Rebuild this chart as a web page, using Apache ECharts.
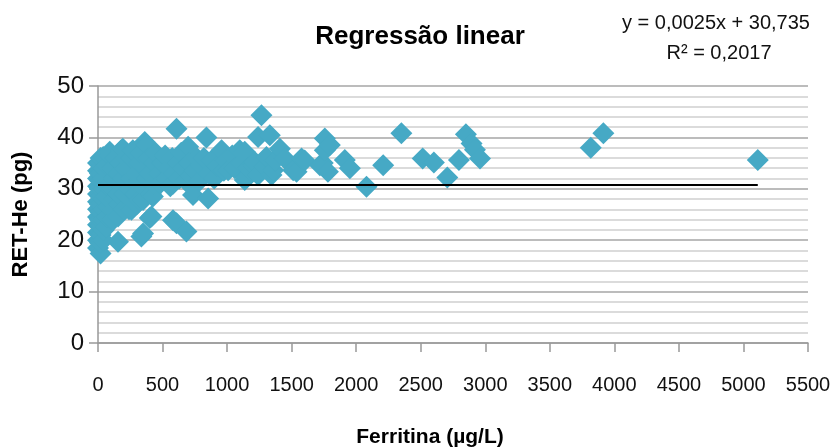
<!DOCTYPE html>
<html>
<head>
<meta charset="utf-8">
<script src="https://cdn.jsdelivr.net/npm/echarts@6/dist/echarts.min.js"></script>
<style>
  html, body { margin: 0; padding: 0; background: #fff; }
  #chart { width: 832px; height: 448px; }
</style>
</head>
<body>
<div id="chart"></div>
<script>
// pontos: [ferritina, RET-He]
const pontos = [
    // coluna junto ao zero
    [0,18.5],[0,20],[0,21.5],[0,23],[0,24.5],[0,26],[0,27.5],[0,29],[0,30.5],[0,32],[0,33.5],[0,35],
    [20,17.4],[15,19.5],[20,21],[20,22.8],[15,24],[20,25.5],[15,27],[20,28.5],[15,30],[20,31.5],[15,33],[25,34.5],[20,36],
    [40,20],[45,22],[40,24],[45,26],[40,28],[45,30],[40,32],[45,34],[40,36.2],
    // 60 - 200
    [65,22.6],[70,24.5],[80,26.5],[65,28.5],[75,30.5],[85,32.5],[70,34.5],[90,36.5],[91,37.2],
    [110,24],[120,26],[130,28],[115,30],[125,32],[110,34],[135,36],
    [155,19.7],[155,24.6],[165,27],[160,29],[170,31],[165,33],[175,35],[180,37.5],[192,37.8],
    [200,26],[205,29],[195,32],[210,34],[215,36],
    // 220 - 420
    [240,26],[259,25.9],[250,28],[245,30],[255,32],[240,34],[260,36],[270,37.5],
    [300,27],[290,29],[310,31],[300,33],[320,35],[330,37],
    [323,27.8],[336,20.7],[349,21.3],[349,27.8],[362,39.1],[375,38.5],[360,30],[380,32],[370,34],[390,36],
    [400,33],[410,29],[401,24.3],[414,24.6],[425,28.5],
    // 420 - 650
    [430,31],[440,35],[445,37],[470,33],[480,31],[500,35],[520,36.5],[530,32],[550,34],[560,30.5],
    [575,36],[581,31],[581,23.9],[590,33],[608,41.7],[608,23.3],[620,35],[630,32],[645,37],
    // 650 - 1000
    [660,34],[680,31.5],[685,21.7],[698,38.2],[710,35],[720,32.5],[736,28.8],[750,33.5],[765,36],[785,31.5],
    [800,34.5],[820,36],[840,40],[853,28.1],[860,33],[880,35.5],[900,32],[925,34.5],[957,37.5],[975,33.5],
    [990,35.5],[1008,33.6],
    // 1000 - 1450
    [1040,36.5],[1060,34],[1098,37.5],[1110,35],[1137,37.2],[1137,31.7],[1150,32.3],[1165,34],[1189,33.3],
    [1202,34.6],[1215,35.2],[1240,32.7],[1240,40.1],[1266,44.3],[1292,34.3],[1305,36.2],[1331,40.4],
    [1344,32.7],[1357,33.6],[1370,35.5],[1409,37.8],[1447,35.9],
    // 1500 - 2000
    [1512,33.6],[1538,33.3],[1577,35.9],[1601,35.5],[1719,34.6],[1741,35],[1757,39.8],[1757,37.5],
    [1781,33.3],[1796,38.5],[1912,35.6],[1951,34.0],
    // valores altos
    [2080,30.4],[2209,34.6],[2350,40.8],[2515,35.9],[2602,35.1],[2706,32.2],[2796,35.6],[2850,40.6],
    [2894,38.8],[2920,37.6],[2959,35.9],[3817,38.0],[3915,40.8],[5111,35.6]
];

// linha de tendência como aparece desenhada
const tendenciaX = [0, 5111];
const tendenciaY = [30.74, 30.74];

const titulo = 'Regressão linear';
const equacao = ['y = 0,0025x + 30,735', 'R² = 0,2017'];

const chart = echarts.init(document.getElementById('chart'));

const fonte = '"Liberation Sans", Arial, Helvetica, sans-serif';
const corPonto = '#46a9c5';

chart.setOption({
    animation: false,
    backgroundColor: '#fff',
    textStyle: { fontFamily: fonte },
    title: [
        {
            text: titulo,
            left: 415, top: 19, textAlign: 'center',
            textStyle: { fontFamily: fonte, fontSize: 26, fontWeight: 'bold', color: '#000' }
        },
        {
            text: equacao[0],
            left: 711, top: 8, textAlign: 'center',
            textStyle: { fontFamily: fonte, fontSize: 20, fontWeight: 'normal', color: '#111' }
        },
        {
            text: equacao[1],
            left: 714, top: 38, textAlign: 'center',
            textStyle: { fontFamily: fonte, fontSize: 20, fontWeight: 'normal', color: '#111' }
        }
    ],
    grid: { left: 98, right: 24, top: 86, bottom: 105, containLabel: false, outerBoundsMode: 'none' },
    xAxis: {
        type: 'value',
        min: 0, max: 5500, interval: 500,
        name: 'Ferritina (µg/L)',
        nameLocation: 'middle',
        nameGap: 84,
        nameTextStyle: { fontFamily: fonte, fontSize: 21, fontWeight: 'bold', color: '#000', padding: [0, 46, 0, 0] },
        axisLine: { show: true, lineStyle: { color: '#999', width: 1.5 } },
        axisTick: { show: true, length: 9, lineStyle: { color: '#999', width: 1.5 } },
        axisLabel: {
            fontFamily: fonte, fontSize: 20, color: '#111', margin: 32,
            formatter: (v) => String(v)
        },
        splitLine: { show: false }
    },
    yAxis: {
        type: 'value',
        min: 0, max: 50, interval: 10,
        name: 'RET-He (pg)',
        nameLocation: 'middle',
        nameGap: 66,
        nameRotate: 90,
        nameTextStyle: { fontFamily: fonte, fontSize: 22, fontWeight: 'bold', color: '#000' },
        axisLine: { show: true, lineStyle: { color: '#999', width: 1.5 } },
        axisTick: { show: true, length: 9, lineStyle: { color: '#999', width: 1.5 } },
        axisLabel: {
            fontFamily: fonte, fontSize: 24, color: '#111', margin: 14,
            formatter: (v) => String(v)
        },
        splitLine: { show: true, lineStyle: { color: '#a6a6a6', width: 1.5 } },
        minorTick: { show: false, splitNumber: 5 },
        minorSplitLine: { show: true, lineStyle: { color: '#cfcfcf', width: 1.5 } }
    },
    series: [
        {
            type: 'scatter',
            data: pontos,
            symbol: 'diamond',
            symbolSize: 22,
            itemStyle: { color: corPonto, opacity: 1 },
            z: 2
        },
        {
            type: 'line',
            data: tendenciaX.map((x, i) => [x, tendenciaY[i]]),
            showSymbol: false,
            symbol: 'none',
            lineStyle: { color: '#000', width: 2 },
            z: 3
        }
    ]
});
</script>
</body>
</html>
